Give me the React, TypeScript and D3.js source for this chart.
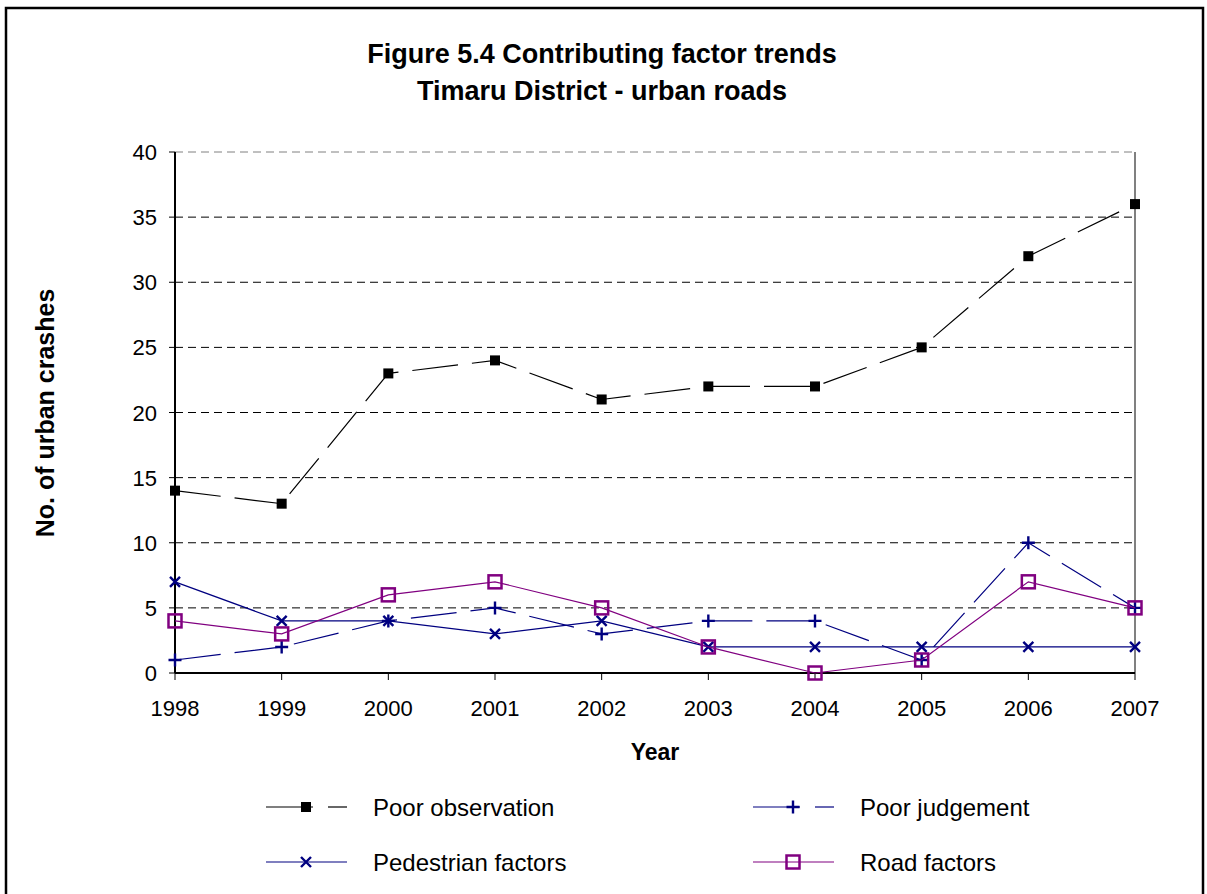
import React from "react";
import * as d3 from "d3";

const years = [1998, 1999, 2000, 2001, 2002, 2003, 2004, 2005, 2006, 2007];
const poorObservation = [14, 13, 23, 24, 21, 22, 22, 25, 32, 36];
const poorJudgement = [1, 2, 4, 5, 3, 4, 4, 1, 10, 5];
const pedestrianFactors = [7, 4, 4, 3, 4, 2, 2, 2, 2, 2];
const roadFactors = [4, 3, 6, 7, 5, 2, 0, 1, 7, 5];
const yTicks = [0, 5, 10, 15, 20, 25, 30, 35, 40];

const FONT = "'Liberation Sans', Arial, sans-serif";

type Series = { name: string; values: number[]; color: string; dash?: string; marker: string };

const series: Series[] = [
  { name: "Poor observation", values: poorObservation, color: "#000000", dash: "46,14", marker: "filledSquare" },
  { name: "Poor judgement", values: poorJudgement, color: "#000080", dash: "46,14", marker: "plus" },
  { name: "Pedestrian factors", values: pedestrianFactors, color: "#000080", marker: "cross" },
  { name: "Road factors", values: roadFactors, color: "#800080", marker: "openSquare" },
];

function Marker({ type, x, y, color }: { type: string; x: number; y: number; color: string }) {
  if (type === "filledSquare") return <rect x={x - 5} y={y - 5} width={10} height={10} fill={color} />;
  if (type === "openSquare")
    return <rect x={x - 6.5} y={y - 6.5} width={13} height={13} fill="none" stroke={color} strokeWidth={2.5} />;
  if (type === "plus")
    return (
      <path d={`M${x - 6.5},${y}H${x + 6.5}M${x},${y - 6.5}V${y + 6.5}`} stroke={color} strokeWidth={2.4} fill="none" />
    );
  return (
    <path
      d={`M${x - 5},${y - 5}L${x + 5},${y + 5}M${x - 5},${y + 5}L${x + 5},${y - 5}`}
      stroke={color}
      strokeWidth={2.4}
      fill="none"
    />
  );
}

export default function App() {
  const W = 1207, H = 894;
  const left = 175, right = 1135, top = 152, bottom = 673;
  const x = d3.scalePoint<number>().domain(years).range([left, right]);
  const y = d3.scaleLinear().domain([0, 40]).range([bottom, top]);
  const line = d3
    .line<number>()
    .x((_, i) => x(years[i]) as number)
    .y((v) => y(v));

  const legend = [
    { s: series[0], lx: 266, ly: 807, tx: 373 },
    { s: series[1], lx: 753, ly: 807, tx: 860 },
    { s: series[2], lx: 266, ly: 862, tx: 373 },
    { s: series[3], lx: 753, ly: 862, tx: 860 },
  ];

  return (
    <svg width={W} height={H} style={{ position: "absolute", left: 0, top: 0 }} fontFamily={FONT}>
      <rect x={0} y={0} width={W} height={H} fill="#fff" />
      <rect x={6} y={8} width={1197} height={900} fill="none" stroke="#000" strokeWidth={2.5} />
      <text x={602} y={63} textAnchor="middle" fontSize={27} fontWeight="bold">
        Figure 5.4 Contributing factor trends
      </text>
      <text x={602} y={100} textAnchor="middle" fontSize={27} fontWeight="bold">
        Timaru District - urban roads
      </text>
      {/* gridlines */}
      {yTicks.filter((t) => t > 0).map((t) => (
        <line key={t} x1={left} x2={right} y1={y(t)} y2={y(t)} stroke={t === 40 ? "#808080" : "#000"} strokeWidth={1} strokeDasharray="8,5" />
      ))}
      <line x1={right} x2={right} y1={top} y2={bottom} stroke="#808080" strokeWidth={2} />
      {/* axes */}
      <line x1={left} x2={left} y1={top} y2={bottom} stroke="#000" strokeWidth={2} />
      <line x1={left} x2={right} y1={bottom} y2={bottom} stroke="#000" strokeWidth={2} />
      {yTicks.map((t) => (
        <g key={t}>
          <line x1={left - 6} x2={left} y1={y(t)} y2={y(t)} stroke="#000" strokeWidth={1} />
          <text x={left - 18} y={y(t) + 8} textAnchor="end" fontSize={22}>
            {t}
          </text>
        </g>
      ))}
      {years.map((yr) => (
        <g key={yr}>
          <line x1={x(yr)} x2={x(yr)} y1={bottom} y2={bottom + 7} stroke="#000" strokeWidth={1} />
          <text x={x(yr)} y={bottom + 43} textAnchor="middle" fontSize={22}>
            {yr}
          </text>
        </g>
      ))}
      <text x={655} y={760} textAnchor="middle" fontSize={23} fontWeight="bold">
        Year
      </text>
      <text transform="translate(54,413) rotate(-90)" textAnchor="middle" fontSize={25} fontWeight="bold">
        No. of urban crashes
      </text>
      {/* series */}
      {series.map((s) => (
        <g key={s.name}>
          <path d={line(s.values) || ""} fill="none" stroke={s.color} strokeWidth={1.2} strokeDasharray={s.dash} />
          {s.values.map((v, i) => (
            <Marker key={i} type={s.marker} x={x(years[i]) as number} y={y(v)} color={s.color} />
          ))}
        </g>
      ))}
      {/* legend */}
      {legend.map(({ s, lx, ly, tx }) => (
        <g key={s.name}>
          {s.dash ? (
            <>
              <line x1={lx} x2={lx + 47} y1={ly} y2={ly} stroke={s.color} strokeWidth={1.2} />
              <line x1={lx + 62} x2={lx + 81} y1={ly} y2={ly} stroke={s.color} strokeWidth={1.2} />
            </>
          ) : (
            <line x1={lx} x2={lx + 81} y1={ly} y2={ly} stroke={s.color} strokeWidth={1.2} />
          )}
          <Marker type={s.marker} x={lx + 40} y={ly} color={s.color} />
          <text x={tx} y={ly + 8.5} fontSize={24}>
            {s.name}
          </text>
        </g>
      ))}
    </svg>
  );
}
